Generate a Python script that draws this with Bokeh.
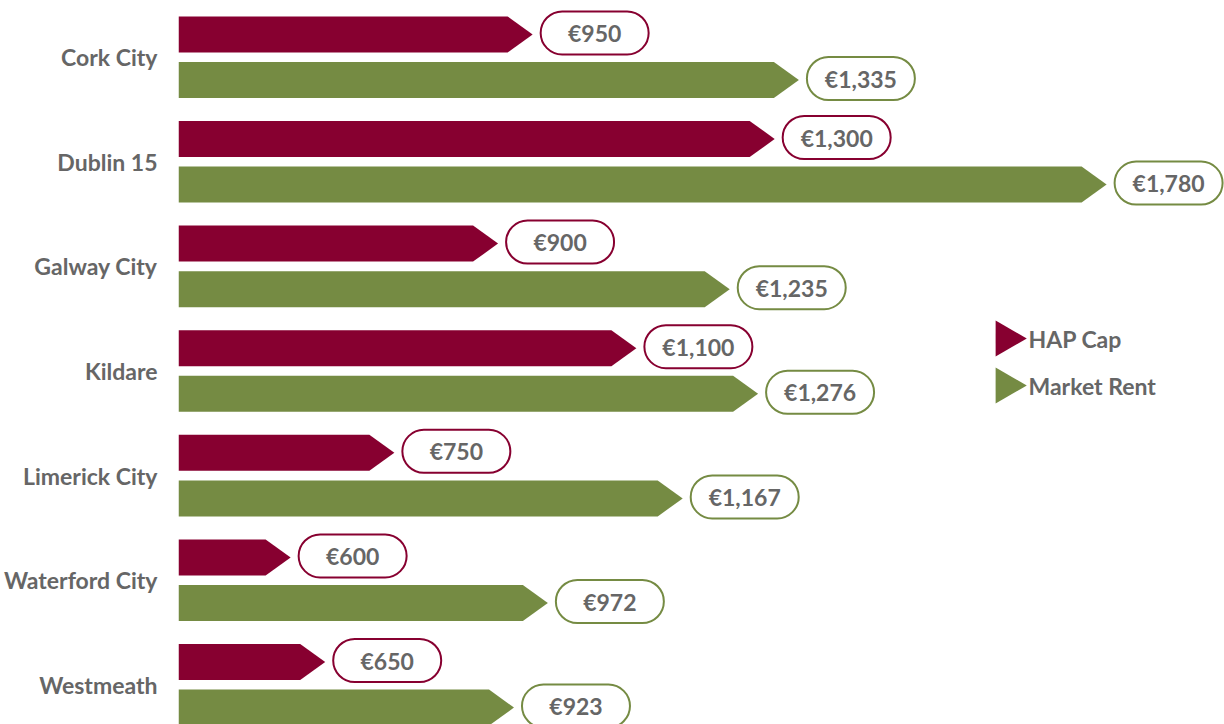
from bokeh.plotting import figure
from bokeh.models import Range1d, FixedTicker
from bokeh.core.properties import value
from bokeh.embed import file_html
from bokeh.resources import INLINE

# ---- data ----
regions = ["Cork City", "Dublin 15", "Galway City", "Kildare",
           "Limerick City", "Waterford City", "Westmeath"]
hap_cap = [950, 1300, 900, 1100, 750, 600, 650]
market_rent = [1335, 1780, 1235, 1276, 1167, 972, 923]
series_names = ["HAP Cap", "Market Rent"]
series_colors = ["#870030", "#758B43"]

# ---- layout constants (pixels) ----
W, H = 1224, 724
LEFT = 178
KX = 0.6915          # px per euro
KY = 104.6           # px per category
X0 = 474.0
Y0 = -56.7 / KY
X1 = X0 + (W - LEFT) / KX
Y1 = Y0 + H / KY

FONT = value("Lato")
GREY = "#666666"
FS = "23px"


def dx(px):
    return px / KX


def dy(px):
    return px / KY


def sx(px):
    return X0 + (px - LEFT) / KX


def sy(py):
    return Y0 + py / KY


p = figure(width=W, height=H, output_backend="svg", toolbar_location=None,
           x_range=Range1d(X0, X1), y_range=Range1d(Y1, Y0),
           min_border_left=LEFT, min_border_right=0,
           min_border_top=0, min_border_bottom=0,
           x_axis_location=None)
p.grid.visible = False
p.outline_line_color = None
p.background_fill_color = "white"

BAR_H = dy(36)
OFFS = dy(22.8)
TIP = dx(25)
GAP = dx(8)
BOX_W = dx(108)
BOX_H = dy(43)
BOX_SHIFT = dy(-1.5)

for si, (vals, color) in enumerate(zip([hap_cap, market_rent], series_colors)):
    off = -OFFS if si == 0 else OFFS
    xs, ys = [], []
    ql, qr, qt, qb, tx, ty, tt = [], [], [], [], [], [], []
    for i, v in enumerate(vals):
        c = i + off
        top, bot = c - BAR_H / 2, c + BAR_H / 2
        xs.append([X0, v, v + TIP, v, X0])
        ys.append([top, top, c, bot, bot])
        l = v + TIP + GAP
        bc = c + BOX_SHIFT
        ql.append(l)
        qr.append(l + BOX_W)
        qt.append(bc - BOX_H / 2)
        qb.append(bc + BOX_H / 2)
        tx.append(l + BOX_W / 2)
        ty.append(bc)
        tt.append("€{:,}".format(v))
    p.patches(xs, ys, fill_color=color, line_color=None)
    p.quad(left=ql, right=qr, top=qt, bottom=qb, fill_color="white",
           line_color=color, line_width=2, border_radius=22)
    p.text(tx, ty, text=tt, text_font=FONT, text_font_style="bold",
           text_font_size=FS, text_color=GREY, text_align="center",
           text_baseline="middle")

# legend (manual)
leg_py = [338, 385]
for name, color, py in zip(series_names, series_colors, leg_py):
    p.scatter([sx(1005.5)], [sy(py)], marker="triangle", angle=-1.5708,
              size=36, fill_color=color, line_color=None)
    p.text([sx(1028)], [sy(py)], text=[name], text_font=FONT,
           text_font_style="bold", text_font_size=FS, text_color=GREY,
           text_align="left", text_baseline="middle")

ax = p.yaxis[0]
ax.ticker = FixedTicker(ticks=list(range(len(regions))))
ax.major_label_overrides = {i: r for i, r in enumerate(regions)}
ax.axis_line_color = None
ax.major_tick_line_color = None
ax.minor_tick_line_color = None
ax.major_tick_out = 0
ax.major_label_standoff = 21
ax.major_label_text_font = "Lato"
ax.major_label_text_font_style = "bold"
ax.major_label_text_font_size = FS
ax.major_label_text_color = GREY

open("out.html", "w").write(file_html(p, INLINE))
